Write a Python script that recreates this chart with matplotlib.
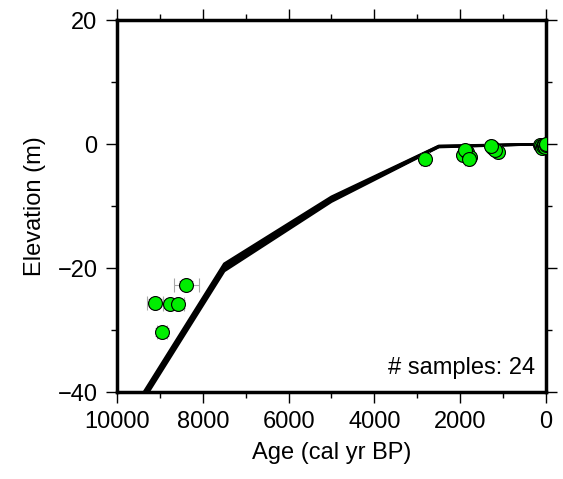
import numpy as np
import matplotlib.pyplot as plt

plt.rcParams['font.family'] = ['Liberation Sans', 'DejaVu Sans']

# sample ages (cal yr BP) and elevations (m)
age = [8390, 9110, 8770, 8580, 8950,
       2820,
       1930, 1840, 1770, 1880, 1800,
       1260, 1235, 1120, 1180, 1280,
       140, 110, 90, 60, 40, 20, 10, 0]
elev = [-22.7, -25.6, -25.8, -25.8, -30.3,
        -2.4,
        -1.8, -1.3, -2.1, -1.0, -2.4,
        -0.5, -0.6, -1.3, -1.0, -0.3,
        -0.2, -0.4, -0.6, -0.3, -0.1, -0.5, -0.2, 0.0]
age_err = [290, 190, 150, 150, 120,
           100,
           80, 80, 80, 80, 80,
           60, 60, 60, 60, 60,
           40, 40, 40, 40, 40, 40, 40, 40]
elev_err = [0.6, 0.6, 0.6, 0.6, 0.6,
            0.3,
            0.3, 0.3, 0.3, 0.3, 0.3,
            0.3, 0.3, 0.3, 0.3, 0.3,
            0.2, 0.2, 0.2, 0.2, 0.2, 0.2, 0.2, 0.2]

# ensemble of sea-level curves (knot ages and elevations)
curve_age = [9500, 7500, 5000, 2500, 0]
curves = [
    [-41.4, -19.3, -8.5, -0.3, 0.0],
    [-41.7, -19.6, -8.7, -0.35, 0.0],
    [-42.0, -19.9, -8.9, -0.4, 0.0],
    [-42.3, -20.2, -9.1, -0.45, 0.0],
    [-42.6, -20.5, -9.3, -0.5, 0.0],
]

fig = plt.figure(figsize=(5.63, 4.79), dpi=100)
ax = fig.add_axes([0.2078, 0.1816, 0.762, 0.7766])

for c in curves:
    ax.plot(curve_age, c, color='black', lw=1.8, zorder=2)

ax.errorbar(age, elev, xerr=age_err, yerr=elev_err, fmt='none',
            ecolor='#a8a8a8', elinewidth=0.8, capsize=5, capthick=0.8, zorder=3)
ax.plot(age, elev, 'o', ms=10, mfc='#00ee00', mec='black', mew=0.8,
        linestyle='none', zorder=4)

ax.set_xlim(10000, 0)
ax.set_ylim(-40, 20)
ax.set_xticks([10000, 8000, 6000, 4000, 2000, 0])
ax.set_xticks(np.arange(0, 10001, 1000), minor=True)
ax.set_yticks([-40, -20, 0, 20])
ax.set_yticklabels(['\u221240', '\u221220', '0', '20'])
ax.set_yticks(np.arange(-40, 21, 10), minor=True)

for s in ax.spines.values():
    s.set_linewidth(2.5)
ax.tick_params(which='both', direction='out', top=True, right=True,
               labelsize=17, width=1)
ax.tick_params(which='major', length=8, pad=6)
ax.tick_params(which='minor', length=4)

ax.set_xlabel('Age (cal yr BP)', fontsize=17, labelpad=6)
ax.set_ylabel('Elevation (m)', fontsize=17, labelpad=8)

ax.text(0.975, 0.035, '# samples: 24', transform=ax.transAxes,
        ha='right', va='bottom', fontsize=17)

fig.savefig('out.png', dpi=100)
